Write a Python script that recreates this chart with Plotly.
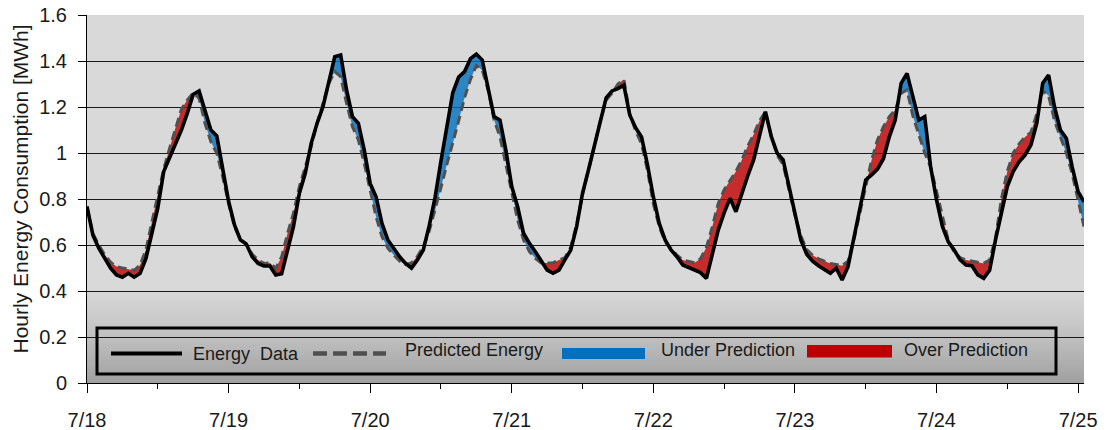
import plotly.graph_objects as go

# Hourly energy consumption, 7/18 00:00 through 7/25 01:00 (one value per hour)
hours = list(range(170))

energy_data = [
    0.767, 0.643, 0.586, 0.542, 0.499, 0.470, 0.460, 0.477, 0.460, 0.477,
    0.542, 0.651, 0.760, 0.919, 0.977, 1.042, 1.100, 1.172, 1.255, 1.270,
    1.180, 1.100, 1.074, 0.930, 0.790, 0.687, 0.622, 0.604, 0.549, 0.520,
    0.509, 0.509, 0.470, 0.475, 0.578, 0.680, 0.825, 0.912, 1.042, 1.129,
    1.201, 1.317, 1.419, 1.426, 1.274, 1.158, 1.129, 1.013, 0.868, 0.810,
    0.694, 0.622, 0.586, 0.549, 0.520, 0.499, 0.535, 0.578, 0.683, 0.807,
    0.965, 1.123, 1.262, 1.330, 1.354, 1.410, 1.430, 1.404, 1.274, 1.158,
    1.143, 1.013, 0.854, 0.767, 0.651, 0.607, 0.571, 0.528, 0.491, 0.477,
    0.491, 0.535, 0.578, 0.680, 0.825, 0.926, 1.027, 1.143, 1.240, 1.270,
    1.280, 1.295, 1.165, 1.110, 1.070, 0.950, 0.810, 0.694, 0.622, 0.578,
    0.549, 0.513, 0.503, 0.494, 0.480, 0.455, 0.564, 0.665, 0.740, 0.803,
    0.745, 0.825, 0.900, 0.970, 1.070, 1.180, 1.071, 0.999, 0.970, 0.850,
    0.730, 0.622, 0.560, 0.530, 0.510, 0.495, 0.477, 0.499, 0.448, 0.506,
    0.630, 0.760, 0.883, 0.905, 0.930, 0.975, 1.070, 1.143, 1.303, 1.346,
    1.250, 1.143, 1.158, 0.940, 0.796, 0.680, 0.614, 0.578, 0.535, 0.513,
    0.510, 0.470, 0.455, 0.490, 0.622, 0.738, 0.854, 0.919, 0.962, 0.991,
    1.035, 1.129, 1.303, 1.339, 1.201, 1.100, 1.064, 0.940, 0.832, 0.788,
]

predicted_energy = [
    0.767, 0.650, 0.600, 0.557, 0.525, 0.506, 0.500, 0.495, 0.490, 0.513,
    0.580, 0.700, 0.820, 0.930, 1.020, 1.110, 1.190, 1.230, 1.262, 1.238,
    1.129, 1.049, 0.999, 0.897, 0.780, 0.680, 0.625, 0.605, 0.560, 0.535,
    0.520, 0.522, 0.499, 0.549, 0.651, 0.738, 0.854, 0.940, 1.027, 1.129,
    1.216, 1.303, 1.354, 1.332, 1.216, 1.114, 1.057, 0.955, 0.839, 0.723,
    0.636, 0.586, 0.557, 0.530, 0.515, 0.522, 0.550, 0.593, 0.660, 0.750,
    0.850, 0.950, 1.040, 1.140, 1.240, 1.320, 1.380, 1.360, 1.274, 1.143,
    1.071, 0.955, 0.839, 0.709, 0.622, 0.571, 0.542, 0.522, 0.522, 0.522,
    0.535, 0.545, 0.590, 0.690, 0.820, 0.920, 1.030, 1.140, 1.230, 1.260,
    1.300, 1.320, 1.170, 1.095, 1.040, 0.926, 0.780, 0.680, 0.614, 0.585,
    0.556, 0.535, 0.528, 0.523, 0.540, 0.590, 0.680, 0.780, 0.840, 0.880,
    0.920, 0.970, 1.030, 1.080, 1.140, 1.180, 1.071, 0.990, 0.950, 0.840,
    0.730, 0.640, 0.580, 0.555, 0.540, 0.530, 0.520, 0.515, 0.510, 0.530,
    0.622, 0.738, 0.854, 0.970, 1.057, 1.114, 1.158, 1.187, 1.260, 1.274,
    1.160, 1.080, 1.000, 0.940, 0.830, 0.720, 0.620, 0.570, 0.545, 0.535,
    0.530, 0.525, 0.520, 0.535, 0.630, 0.800, 0.920, 1.000, 1.040, 1.070,
    1.090, 1.170, 1.270, 1.250, 1.140, 1.070, 1.000, 0.910, 0.790, 0.680,
]

day_ticks = [0, 24, 48, 72, 96, 120, 144, 168]
day_labels = ["7/18", "7/19", "7/20", "7/21", "7/22", "7/23", "7/24", "7/25"]

legend_labels = ["Energy  Data", "Predicted Energy", "Under Prediction", "Over Prediction"]

# --- page geometry (pixels) ---
W, H = 1107, 430
PL, PR, PT, PB = 87, 1084, 15, 383  # plot-area edges


def px(x):
    return (x - PL) / (PR - PL)


def py(y):
    return (PB - y) / (PB - PT)


def split_fill(x, a, p):
    """Split the band between actual and predicted into polygons by sign."""
    polys = {1: ([], []), -1: ([], [])}
    state = {"a": [], "p": [], "sign": 0}

    def close_run():
        if state["sign"] != 0 and len(state["a"]) > 1:
            xs, ys = polys[state["sign"]]
            pts = state["a"] + state["p"][::-1]
            xs.extend([q[0] for q in pts] + [None])
            ys.extend([q[1] for q in pts] + [None])

    def restart(pt):
        state["a"], state["p"], state["sign"] = [pt], [pt], 0

    for i in range(len(x)):
        d = a[i] - p[i]
        if i > 0:
            dp = a[i - 1] - p[i - 1]
            if dp * d < 0:
                t = dp / (dp - d)
                xc = x[i - 1] + t * (x[i] - x[i - 1])
                yc = a[i - 1] + t * (a[i] - a[i - 1])
                state["a"].append((xc, yc))
                state["p"].append((xc, yc))
                close_run()
                restart((xc, yc))
        state["a"].append((x[i], a[i]))
        state["p"].append((x[i], p[i]))
        if d == 0:
            close_run()
            restart((x[i], a[i]))
        elif state["sign"] == 0:
            state["sign"] = 1 if d > 0 else -1
    close_run()
    return polys


polys = split_fill(hours, energy_data, predicted_energy)

BLUE_FILL = "rgba(0,112,192,0.8)"
RED_FILL = "rgba(192,0,0,0.8)"

fig = go.Figure()
fig.add_trace(go.Scatter(x=polys[1][0], y=polys[1][1], mode="none", fill="toself",
                         fillcolor=BLUE_FILL, hoverinfo="skip", showlegend=False))
fig.add_trace(go.Scatter(x=polys[-1][0], y=polys[-1][1], mode="none", fill="toself",
                         fillcolor=RED_FILL, hoverinfo="skip", showlegend=False))
fig.add_trace(go.Scatter(x=hours, y=predicted_energy, mode="lines",
                         line=dict(color="#505050", width=3, dash="9px,5px"),
                         showlegend=False))
fig.add_trace(go.Scatter(x=hours, y=energy_data, mode="lines",
                         line=dict(color="#000000", width=3.6),
                         showlegend=False))

shapes = []

# darker shading toward the bottom of the plot area
g0, g1 = 285, PB
steps = 49
c_top, c_bot = (217, 217, 217), (160, 160, 160)
for k in range(steps):
    y_a = g0 + (g1 - g0) * k / steps
    y_b = g0 + (g1 - g0) * (k + 1) / steps
    f = ((k + 0.5) / steps) ** 1.3
    c = tuple(round(c_top[j] + (c_bot[j] - c_top[j]) * f) for j in range(3))
    shapes.append(dict(type="rect", xref="paper", yref="paper", layer="below",
                       x0=0, x1=1, y0=py(y_b), y1=py(y_a) + 0.002,
                       fillcolor="rgb(%d,%d,%d)" % c, line=dict(width=0)))

# legend frame
shapes.append(dict(type="rect", xref="paper", yref="paper", layer="above",
                   x0=px(97), x1=px(1056), y0=py(374), y1=py(328),
                   line=dict(color="#000000", width=3), fillcolor="rgba(0,0,0,0)"))
# legend keys
shapes.append(dict(type="line", xref="paper", yref="paper", layer="above",
                   x0=px(111), x1=px(182), y0=py(353.5), y1=py(353.5),
                   line=dict(color="#000000", width=4)))
shapes.append(dict(type="line", xref="paper", yref="paper", layer="above",
                   x0=px(313), x1=px(386), y0=py(353.5), y1=py(353.5),
                   line=dict(color="#505050", width=4.5, dash="14px,6px")))
shapes.append(dict(type="rect", xref="paper", yref="paper", layer="above",
                   x0=px(562), x1=px(645), y0=py(359), y1=py(348),
                   fillcolor="#0070C0", line=dict(width=0)))
shapes.append(dict(type="rect", xref="paper", yref="paper", layer="above",
                   x0=px(807), x1=px(892), y0=py(357.5), y1=py(345),
                   fillcolor="#C00000", line=dict(width=0)))

legend_font = dict(family="Liberation Sans, Arial, sans-serif", size=18, color="#1a1a1a")
annotations = []
for label, lx, ly in zip(legend_labels, [191, 403, 659, 902], [353.5, 349.5, 349.5, 349.5]):
    annotations.append(dict(text=label, xref="paper", yref="paper", x=px(lx), y=py(ly),
                            xanchor="left", yanchor="middle", showarrow=False,
                            font=legend_font))

annotations.append(dict(text="Hourly Energy Consumption [MWh]", xref="paper", yref="paper",
                        x=px(19.5), y=py(189), xanchor="center", yanchor="middle",
                        textangle=-90, showarrow=False,
                        font=dict(family="Liberation Sans, Arial, sans-serif", size=21,
                                  color="#1a1a1a")))

fig.update_layout(
    width=W, height=H,
    margin=dict(l=PL, r=W - PR, t=PT, b=H - PB, pad=0, autoexpand=False),
    paper_bgcolor="#ffffff",
    plot_bgcolor="#d9d9d9",
    shapes=shapes,
    annotations=annotations,
    font=dict(family="Liberation Sans, Arial, sans-serif", size=20, color="#1a1a1a"),
)

fig.update_xaxes(
    range=[0, 169], tickmode="array", tickvals=day_ticks, ticktext=day_labels,
    automargin=False,
    showgrid=False, zeroline=False,
    showline=True, linecolor="#000000", linewidth=1,
    ticks="outside", ticklen=9, tickcolor="#000000", tickwidth=1,
    minor=dict(ticks="outside", ticklen=5, tickcolor="#000000", tickwidth=1,
               tickmode="array", tickvals=[12 + 24 * k for k in range(7)]),
    tickfont=dict(size=20), ticklabelstandoff=10,
)
fig.update_yaxes(
    range=[0, 1.6], dtick=0.2, tick0=0,
    automargin=False,
    showgrid=True, gridcolor="#1a1a1a", gridwidth=1,
    zeroline=False,
    showline=True, linecolor="#000000", linewidth=1,
    ticks="outside", ticklen=8, tickcolor="#000000", tickwidth=1,
    tickfont=dict(size=20), ticklabelstandoff=7,
)

fig.write_html("out.html")
